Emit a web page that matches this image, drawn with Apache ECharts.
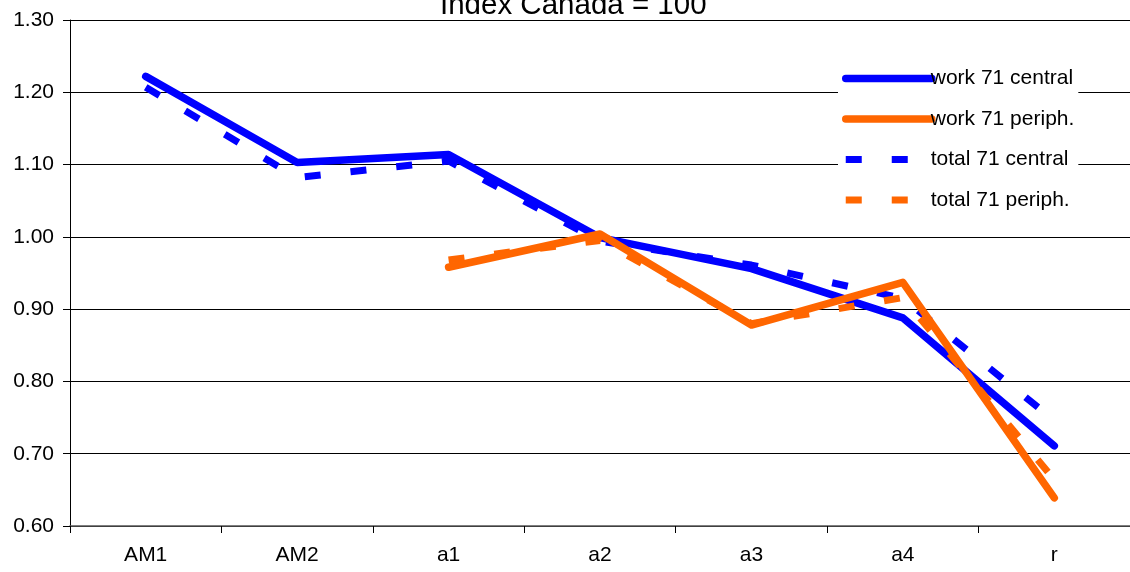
<!DOCTYPE html>
<html>
<head>
<meta charset="utf-8">
<script src="https://cdn.jsdelivr.net/npm/echarts@6/dist/echarts.min.js"></script>
<style>
html,body{margin:0;padding:0;background:#fff;}
#chart{width:1130px;height:572px;}
</style>
</head>
<body>
<div id="chart"></div>
<script>
var categories = ['AM1', 'AM2', 'a1', 'a2', 'a3', 'a4', 'r'];
var workCentral = [1.222, 1.103, 1.114, 0.999, 0.956, 0.888, 0.711];
var workPeriph = [null, null, 0.958, 1.004, 0.878, 0.937, 0.639];
var totalCentral = [1.207, 1.082, 1.105, 0.994, 0.961, 0.915, 0.746];
var totalPeriph = [null, null, 0.968, 0.995, 0.880, 0.916, 0.664];
var seriesNames = ['work 71 central', 'work 71 periph.', 'total 71 central', 'total 71 periph.'];
var titleText = 'Index Canada = 100';

var BLUE = '#0000FF', ORANGE = '#FF6600';
var FONT = '"Liberation Sans", Arial, sans-serif';

var chart = echarts.init(document.getElementById('chart'), null, {renderer: 'canvas'});
chart.setOption({
  animation: false,
  backgroundColor: '#fff',
  textStyle: {fontFamily: FONT},
  title: {
    text: titleText,
    left: 440,
    top: -9,
    padding: 0,
    textStyle: {fontFamily: FONT, fontSize: 29.5, fontWeight: 'normal', color: '#000'}
  },
  legend: {
    orient: 'vertical',
    left: 838,
    top: 63,
    padding: [5, 4, 5, 4],
    backgroundColor: '#fff',
    itemWidth: 86,
    itemHeight: 14,
    itemGap: 19.5,
    data: seriesNames,
    itemStyle: {opacity: 0},
    lineStyle: {width: 'inherit', type: 'inherit', cap: 'inherit', color: 'inherit'},
    textStyle: {fontFamily: FONT, fontSize: 21, color: '#000', lineHeight: 20, padding: [0, 0, 0, -6]}
  },
  grid: {left: 70, right: 0, top: 20, bottom: 46, containLabel: false},
  xAxis: {
    type: 'category',
    data: categories,
    boundaryGap: true,
    axisLine: {lineStyle: {color: '#555', width: 1.5}},
    axisTick: {show: true, length: 7, lineStyle: {color: '#000'}},
    axisLabel: {color: '#000', fontSize: 21, fontFamily: FONT, margin: 19},
    splitLine: {show: false}
  },
  yAxis: {
    type: 'value',
    min: 0.6,
    max: 1.3,
    interval: 0.1,
    axisLine: {show: true, lineStyle: {color: '#000', width: 1}},
    axisTick: {show: true, length: 7, lineStyle: {color: '#000'}},
    axisLabel: {color: '#000', fontSize: 21, fontFamily: FONT, margin: 16,
      formatter: function (v) { return v.toFixed(2); }},
    splitLine: {show: true, lineStyle: {color: '#000', width: 1}}
  },
  series: [
    {name: seriesNames[2], type: 'line', data: totalCentral, symbol: 'none', z: 2,
      color: BLUE, lineStyle: {color: BLUE, width: 7, type: [16, 30], cap: 'butt'}},
    {name: seriesNames[0], type: 'line', data: workCentral, symbol: 'none', z: 3,
      color: BLUE, lineStyle: {color: BLUE, width: 7.5, cap: 'round', join: 'round'}},
    {name: seriesNames[3], type: 'line', data: totalPeriph, symbol: 'none', z: 4,
      color: ORANGE, lineStyle: {color: ORANGE, width: 7, type: [16, 30], cap: 'butt'}},
    {name: seriesNames[1], type: 'line', data: workPeriph, symbol: 'none', z: 5,
      color: ORANGE, lineStyle: {color: ORANGE, width: 7.5, cap: 'round', join: 'round'}}
  ]
});
</script>
</body>
</html>
